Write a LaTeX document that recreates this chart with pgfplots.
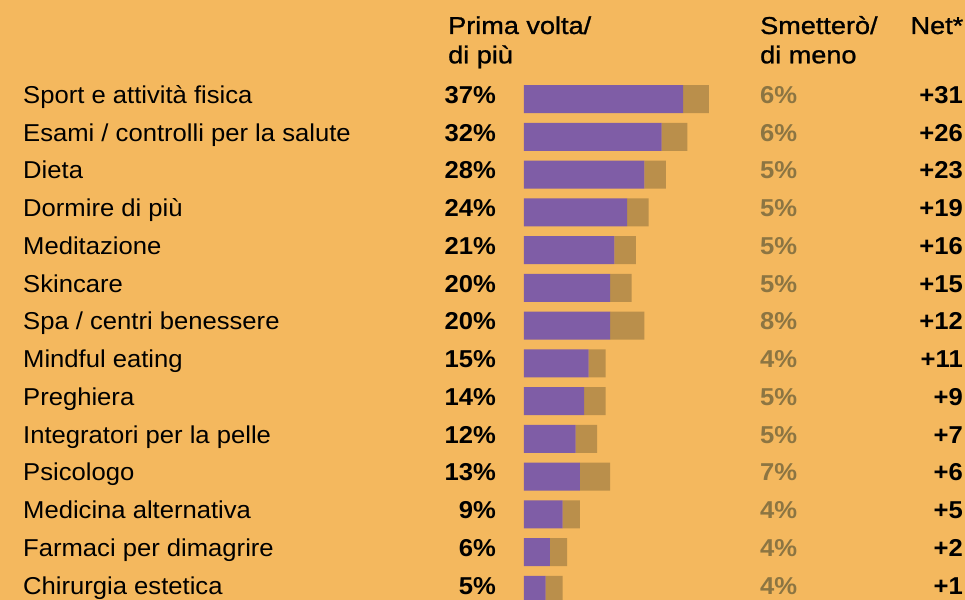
\documentclass[border=0pt]{standalone}
\usepackage{fontspec}
\setmainfont{Liberation Sans}[FakeStretch=1.05]
\newfontfamily\medfont{Liberation Sans}[FakeStretch=1.11, FakeBold=1]
\usepackage{pgfplots}
\pgfplotsset{compat=1.18}
\definecolor{bg}{HTML}{F4B85E}
\definecolor{purp}{HTML}{7F5DA6}
\definecolor{brn}{HTML}{BA8F4B}
\definecolor{gtx}{HTML}{8C7542}
\tikzset{
  lablab/.style={font=\fontsize{24.4bp}{29bp}\selectfont, inner sep=0pt, anchor=base west},
  pctpct/.style={font=\fontsize{24.4bp}{29bp}\selectfont\bfseries, inner sep=0pt, anchor=base east},
  lesles/.style={font=\fontsize{24.4bp}{29bp}\selectfont\bfseries, text=gtx, inner sep=0pt, anchor=base west},
  netnet/.style={font=\fontsize{24.4bp}{29bp}\selectfont\bfseries, inner sep=0pt, anchor=base east},
  hdhd/.style={font=\fontsize{24.4bp}{29bp}\selectfont\medfont, inner sep=0pt, anchor=base west},
}
\begin{document}
\begin{tikzpicture}
\begin{axis}[
  scale only axis, width=965bp, height=600bp,
  xmin=-121.86, xmax=102.56, ymin=-2.6225, ymax=13.2715, y dir=reverse,
  axis line style={draw=none}, xtick=\empty, ytick=\empty,
  axis background/.style={fill=bg},
  xbar stacked, bar width=28bp, clip=true,
]
\addplot[fill=purp, draw=none] coordinates {
  (37,0) (32,1) (28,2) (24,3) (21,4) (20,5) (20,6)
  (15,7) (14,8) (12,9) (13,10) (9,11) (6,12) (5,13)};
\addplot[fill=brn, draw=none] coordinates {
  (6,0) (6,1) (5,2) (5,3) (5,4) (5,5) (8,6)
  (4,7) (5,8) (5,9) (7,10) (4,11) (4,12) (4,13)};
% headers
\node[hdhd] at (axis cs:-17.67,-1.722) {Prima volta/};
\node[hdhd] at (axis cs:-17.67,-0.946) {di più};
\node[hdhd] at (axis cs:54.88,-1.722) {Smetterò/};
\node[hdhd] at (axis cs:54.88,-0.946) {di meno};
\node[hdhd, anchor=base east] at (axis cs:102.2,-1.722) {Net*};
% labels
\node[lablab] at (axis cs:-116.51,0.114) {Sport e attività fisica};
\node[lablab] at (axis cs:-116.51,1.114) {Esami / controlli per la salute};
\node[lablab] at (axis cs:-116.51,2.114) {Dieta};
\node[lablab] at (axis cs:-116.51,3.114) {Dormire di più};
\node[lablab] at (axis cs:-116.51,4.114) {Meditazione};
\node[lablab] at (axis cs:-116.51,5.114) {Skincare};
\node[lablab] at (axis cs:-116.51,6.114) {Spa / centri benessere};
\node[lablab] at (axis cs:-116.51,7.114) {Mindful eating};
\node[lablab] at (axis cs:-116.51,8.114) {Preghiera};
\node[lablab] at (axis cs:-116.51,9.114) {Integratori per la pelle};
\node[lablab] at (axis cs:-116.51,10.114) {Psicologo};
\node[lablab] at (axis cs:-116.51,11.114) {Medicina alternativa};
\node[lablab] at (axis cs:-116.51,12.114) {Farmaci per dimagrire};
\node[lablab] at (axis cs:-116.51,13.114) {Chirurgia estetica};
% first column
\node[pctpct] at (axis cs:-6.51,0.114) {37\%};
\node[pctpct] at (axis cs:-6.51,1.114) {32\%};
\node[pctpct] at (axis cs:-6.51,2.114) {28\%};
\node[pctpct] at (axis cs:-6.51,3.114) {24\%};
\node[pctpct] at (axis cs:-6.51,4.114) {21\%};
\node[pctpct] at (axis cs:-6.51,5.114) {20\%};
\node[pctpct] at (axis cs:-6.51,6.114) {20\%};
\node[pctpct] at (axis cs:-6.51,7.114) {15\%};
\node[pctpct] at (axis cs:-6.51,8.114) {14\%};
\node[pctpct] at (axis cs:-6.51,9.114) {12\%};
\node[pctpct] at (axis cs:-6.51,10.114) {13\%};
\node[pctpct] at (axis cs:-6.51,11.114) {9\%};
\node[pctpct] at (axis cs:-6.51,12.114) {6\%};
\node[pctpct] at (axis cs:-6.51,13.114) {5\%};
% less column
\node[lesles] at (axis cs:54.88,0.114) {6\%};
\node[lesles] at (axis cs:54.88,1.114) {6\%};
\node[lesles] at (axis cs:54.88,2.114) {5\%};
\node[lesles] at (axis cs:54.88,3.114) {5\%};
\node[lesles] at (axis cs:54.88,4.114) {5\%};
\node[lesles] at (axis cs:54.88,5.114) {5\%};
\node[lesles] at (axis cs:54.88,6.114) {8\%};
\node[lesles] at (axis cs:54.88,7.114) {4\%};
\node[lesles] at (axis cs:54.88,8.114) {5\%};
\node[lesles] at (axis cs:54.88,9.114) {5\%};
\node[lesles] at (axis cs:54.88,10.114) {7\%};
\node[lesles] at (axis cs:54.88,11.114) {4\%};
\node[lesles] at (axis cs:54.88,12.114) {4\%};
\node[lesles] at (axis cs:54.88,13.114) {4\%};
% net column
\node[netnet] at (axis cs:102.09,0.114) {+31};
\node[netnet] at (axis cs:102.09,1.114) {+26};
\node[netnet] at (axis cs:102.09,2.114) {+23};
\node[netnet] at (axis cs:102.09,3.114) {+19};
\node[netnet] at (axis cs:102.09,4.114) {+16};
\node[netnet] at (axis cs:102.09,5.114) {+15};
\node[netnet] at (axis cs:102.09,6.114) {+12};
\node[netnet] at (axis cs:102.09,7.114) {+11};
\node[netnet] at (axis cs:102.09,8.114) {+9};
\node[netnet] at (axis cs:102.09,9.114) {+7};
\node[netnet] at (axis cs:102.09,10.114) {+6};
\node[netnet] at (axis cs:102.09,11.114) {+5};
\node[netnet] at (axis cs:102.09,12.114) {+2};
\node[netnet] at (axis cs:102.09,13.114) {+1};
\end{axis}
\pgfresetboundingbox
\useasboundingbox (current axis.south west) rectangle (current axis.north east);
\end{tikzpicture}
\end{document}
